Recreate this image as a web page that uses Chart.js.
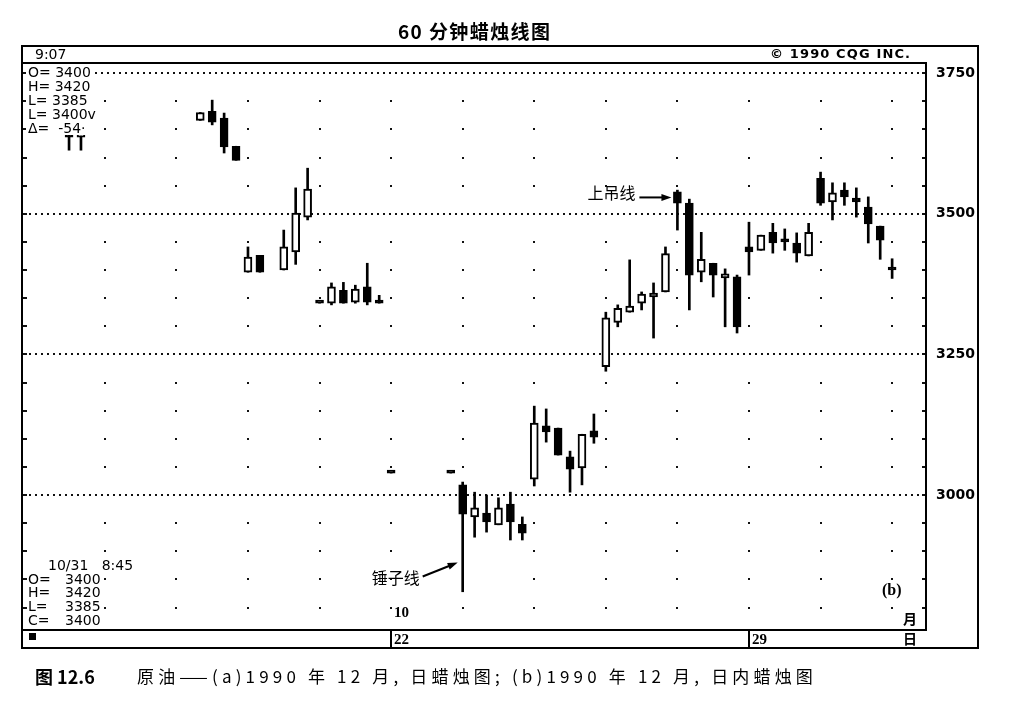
<!DOCTYPE html>
<html>
<head>
<meta charset="utf-8">
<script src="https://cdn.jsdelivr.net/npm/chart.js@4.4.0/dist/chart.umd.min.js"></script>
<style>
  body { margin: 0; background: #fff; }
  canvas { display: block; }
</style>
</head>
<body>
<canvas id="chart" width="1011" height="704"></canvas>
<script>
// 60-minute bars, position = bar number in the session strip
const barIndex = [0, 1, 11, 12, 13, 14, 15, 16, 18, 19, 20, 21, 22, 23, 24, 25, 26, 27,
  32, 33, 34, 35, 36, 37, 38, 39, 40, 41, 42, 43, 44, 45, 46, 47, 48, 49, 50,
  51, 52, 53, 54, 55, 56, 57, 58, 59, 60, 61, 62, 63, 64, 65, 66, 67, 68, 69];
const opens = [3643, 3636, 3666, 3682, 3670, 3620, 3396, 3426, 3400, 3432, 3494, 3341, 3341, 3364, 3343, 3370, 3341, 3039,
  3039, 3018, 2961, 2968, 2947, 2984, 2948, 3028, 3123, 3119, 3068, 3048, 3114, 3228, 3307, 3325, 3341, 3352, 3361,
  3539, 3519, 3396, 3412, 3386, 3388, 3441, 3435, 3467, 3455, 3448, 3425, 3563, 3521, 3542, 3528, 3512, 3478, 3400];
const highs = [3643, 3646, 3680, 3702, 3679, 3620, 3441, 3426, 3471, 3546, 3581, 3341, 3377, 3378, 3373, 3412, 3355, 3039,
  3039, 3023, 3005, 3000, 2995, 3005, 2961, 3158, 3153, 3119, 3078, 3108, 3144, 3325, 3338, 3418, 3361, 3377, 3441,
  3542, 3526, 3467, 3412, 3402, 3391, 3485, 3462, 3483, 3473, 3466, 3483, 3574, 3555, 3555, 3546, 3530, 3478, 3420];
const lows = [3613, 3613, 3666, 3658, 3608, 3595, 3396, 3396, 3400, 3410, 3489, 3341, 3338, 3341, 3341, 3338, 3341, 3039,
  3039, 2828, 2925, 2934, 2947, 2920, 2920, 3016, 3094, 3071, 3005, 3018, 3092, 3220, 3299, 3325, 3329, 3279, 3361,
  3471, 3329, 3379, 3352, 3299, 3288, 3391, 3435, 3430, 3435, 3414, 3425, 3515, 3489, 3515, 3494, 3448, 3419, 3385];
const closes = [3636, 3643, 3680, 3663, 3619, 3595, 3423, 3396, 3441, 3501, 3544, 3341, 3370, 3341, 3366, 3343, 3341, 3039,
  3039, 2966, 2977, 2952, 2977, 2952, 2932, 3128, 3112, 3071, 3046, 3108, 3103, 3315, 3332, 3336, 3357, 3359, 3429,
  3519, 3391, 3419, 3391, 3393, 3299, 3432, 3462, 3448, 3450, 3430, 3467, 3519, 3537, 3530, 3521, 3482, 3453, 3400];

const priceTicks = [3000, 3250, 3500, 3750];
const dotStep = 50;
const dayStarts = [27, 57];
const dayNames = ['22', '29'];
const hangingManBar = 51;
const hammerBar = 33;

const up = barIndex.map((b, i) => closes[i] > opens[i]);

function spread(ctx, text, x, y, width) {
  ctx.letterSpacing = '0px';
  const w = ctx.measureText(text).width;
  const n = [...text].length;
  ctx.letterSpacing = (n > 1 ? (width - w) / (n - 1) : 0) + 'px';
  ctx.fillText(text, x, y);
  ctx.letterSpacing = '0px';
}

function arrow(ctx, x1, y1, x2, y2) {
  const ang = Math.atan2(y2 - y1, x2 - x1);
  ctx.beginPath();
  ctx.moveTo(x1, y1);
  ctx.lineTo(x2 - 8 * Math.cos(ang), y2 - 8 * Math.sin(ang));
  ctx.stroke();
  ctx.beginPath();
  ctx.moveTo(x2, y2);
  ctx.lineTo(x2 - 10 * Math.cos(ang) + 3.5 * Math.sin(ang), y2 - 10 * Math.sin(ang) - 3.5 * Math.cos(ang));
  ctx.lineTo(x2 - 10 * Math.cos(ang) - 3.5 * Math.sin(ang), y2 - 10 * Math.sin(ang) + 3.5 * Math.cos(ang));
  ctx.closePath();
  ctx.fill();
}

const sheet = {
  id: 'sheet',
  beforeDraw(chart) {
    const { ctx, chartArea: a, scales: { x, y } } = chart;
    ctx.save();
    ctx.fillStyle = '#fff';
    ctx.fillRect(0, 0, chart.width, chart.height);
    ctx.fillStyle = '#111';
    for (let v = 2800; v <= 3750; v += dotStep) {
      const py = Math.round(y.getPixelForValue(v));
      ctx.fillRect(a.left, py - 1, 4, 2);
      ctx.fillRect(a.right - 4, py - 1, 4, 2);
      if (priceTicks.includes(v)) continue;
      for (let c = 3; c <= 70; c += 6) {
        ctx.fillRect(Math.round(x.getPixelForValue(c)) - 1, py - 1, 2, 2);
      }
    }
    ctx.strokeStyle = '#111';
    ctx.lineWidth = 2;
    ctx.setLineDash([2, 4]);
    priceTicks.forEach(v => {
      const py = Math.round(y.getPixelForValue(v));
      ctx.beginPath();
      ctx.moveTo(a.left, py);
      ctx.lineTo(a.right, py);
      ctx.stroke();
    });
    ctx.restore();
  },
  afterDraw(chart) {
    const { ctx, chartArea: a, scales: { x, y } } = chart;
    ctx.save();
    ctx.strokeStyle = '#000';
    ctx.fillStyle = '#000';
    ctx.lineWidth = 2;
    // frames
    ctx.strokeRect(22, 46, 956, 602);
    ctx.beginPath();
    ctx.moveTo(22, a.top); ctx.lineTo(a.right, a.top);
    ctx.lineTo(a.right, a.bottom); ctx.lineTo(22, a.bottom);
    ctx.stroke();
    ctx.textBaseline = 'middle';
    dayStarts.forEach((d, i) => {
      const px = Math.round(x.getPixelForValue(d));
      ctx.beginPath();
      ctx.moveTo(px, a.bottom); ctx.lineTo(px, 648);
      ctx.stroke();
      ctx.font = 'bold 15px "Liberation Serif"';
      ctx.fillText(dayNames[i], px + 3, 640);
    });
    ctx.font = 'bold 15px "Liberation Serif"';
    ctx.fillText('10', Math.round(x.getPixelForValue(dayStarts[0])) + 3, 613);
    ctx.fillRect(29, 633, 7, 7);

    // header band
    ctx.font = '14px "DejaVu Sans"';
    ctx.fillText('9:07', 35, 55);
    ctx.font = 'bold 13px "DejaVu Sans"';
    spread(ctx, '\u00a9 1990 CQG INC.', 770, 55, 140);

    // quote blocks
    ctx.font = '14px "DejaVu Sans"';
    const topLines = ['O= 3400', 'H= 3420', 'L= 3385', 'L= 3400v', '\u0394=  -54\u00b7'];
    topLines.forEach((t, i) => {
      const w = ctx.measureText(t).width;
      ctx.fillStyle = '#fff';
      ctx.fillRect(26, 66 + i * 14, w + 6, 13);
      ctx.fillStyle = '#000';
      ctx.fillText(t, 28, 73 + i * 14);
    });
    ctx.fillText('10/31   8:45', 48, 566);
    const botLabels = ['O=', 'H=', 'L=', 'C='];
    const botValues = ['3400', '3420', '3385', '3400'];
    botLabels.forEach((t, i) => {
      ctx.fillText(t, 28, 580 + i * 13.7);
      ctx.fillText(botValues[i], 65, 580 + i * 13.7);
    });

    // right side tags
    ctx.font = 'bold 16px "Liberation Serif"';
    ctx.fillText('(b)', 882, 591);
    ctx.font = 'bold 14px "Noto Sans CJK SC"';
    ctx.fillText('\u6708', 903, 619);
    ctx.fillText('\u65e5', 903, 639);

    // annotations
    ctx.font = '16px "Noto Sans CJK SC"';
    ctx.lineWidth = 2;
    const hmX = x.getPixelForValue(hangingManBar) - 6;
    const hmI = barIndex.indexOf(hangingManBar);
    const hmY = y.getPixelForValue((opens[hmI] + closes[hmI]) / 2);
    arrow(ctx, hmX - 32, hmY, hmX, hmY);
    ctx.textAlign = 'right';
    ctx.fillText('\u4e0a\u540a\u7ebf', hmX - 36, hmY - 5);
    const hX = x.getPixelForValue(hammerBar) - 5;
    const hI = barIndex.indexOf(hammerBar);
    const hY = y.getPixelForValue(lows[hI] + 52);
    arrow(ctx, hX - 35, hY + 14, hX, hY);
    ctx.fillText('\u9524\u5b50\u7ebf', hX - 38, hY + 15);
    ctx.textAlign = 'left';

    // title and caption
    ctx.font = 'bold 19px "Noto Sans CJK SC"';
    spread(ctx, '60 \u5206\u949f\u8721\u70db\u7ebf\u56fe', 398, 32, 152);
    ctx.font = 'bold 18px "Noto Sans CJK SC"';
    ctx.fillText('\u56fe 12.6', 35, 677);
    ctx.font = '17px "Noto Sans CJK SC"';
    spread(ctx, '\u539f\u6cb9\u2014\u2014(a)1990 \u5e74 12 \u6708, \u65e5\u8721\u70db\u56fe; (b)1990 \u5e74 12 \u6708, \u65e5\u5185\u8721\u70db\u56fe', 137, 677, 680);
    ctx.restore();
  }
};

new Chart(document.getElementById('chart'), {
  type: 'bar',
  data: {
    datasets: [
      {
        label: 'body',
        data: barIndex.map((b, i) => ({ x: b, y: [opens[i], closes[i]] })),
        backgroundColor: up.map(u => u ? '#fff' : '#000'),
        borderColor: '#000',
        borderWidth: 2,
        borderSkipped: false,
        barThickness: 8,
        minBarLength: 3,
        grouped: false
      },
      {
        label: 'wick',
        data: barIndex.map((b, i) => ({ x: b, y: [lows[i], highs[i]] })),
        backgroundColor: '#000',
        borderWidth: 0,
        barThickness: 2,
        grouped: false
      }
    ]
  },
  options: {
    responsive: false,
    animation: false,
    layout: { padding: { left: 23, right: 33, top: 63, bottom: 74 } },
    plugins: { legend: { display: false }, tooltip: { enabled: false } },
    scales: {
      x: {
        type: 'linear',
        min: -3.86,
        max: 71.84,
        offset: false,
        display: false
      },
      y: {
        position: 'right',
        min: 2760,
        max: 3768,
        afterBuildTicks: s => { s.ticks = priceTicks.map(v => ({ value: v })); },
        afterFit: s => { s.width = 52; },
        grid: { display: false, drawTicks: false },
        border: { display: false },
        ticks: {
          color: '#000',
          padding: 10,
          font: { family: 'DejaVu Sans', size: 14, weight: 'bold' },
          callback: v => String(v)
        }
      }
    }
  },
  plugins: [sheet]
});
</script>
</body>
</html>
